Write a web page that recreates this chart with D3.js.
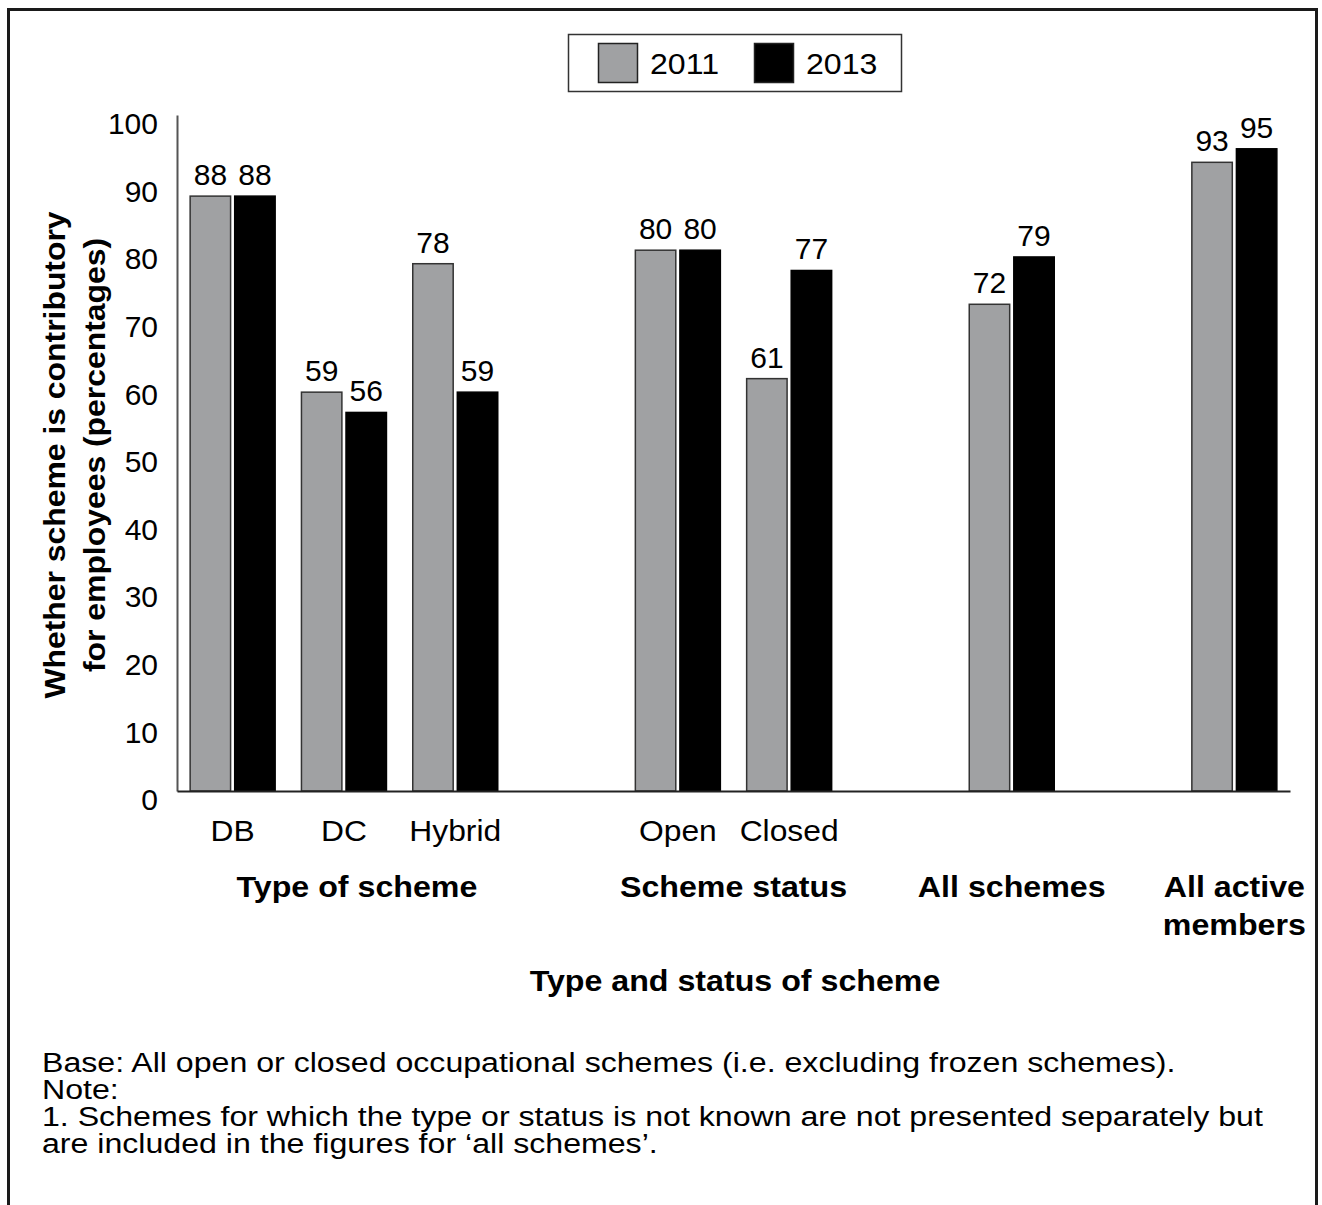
<!DOCTYPE html>
<html>
<head>
<meta charset="utf-8">
<script src="https://cdn.jsdelivr.net/npm/d3@7"></script>
<style>
  html, body { margin: 0; padding: 0; background: #fff; }
  svg { display: block; font-family: "Liberation Sans", Arial, sans-serif; }
</style>
</head>
<body>
<svg id="chart" width="1322" height="1205"></svg>
<script>
// Category slots along the x axis; empty keys act as spacers between groups
const slots = ["DB", "DC", "Hybrid", "gap1", "Open", "Closed", "gap2", "All schemes", "gap3", "All active members"];
const tickLabels = {"DB": "DB", "DC": "DC", "Hybrid": "Hybrid", "Open": "Open", "Closed": "Closed"};
const categories = ["DB", "DC", "Hybrid", "Open", "Closed", "All schemes", "All active members"];
const years = ["2011", "2013"];
const values2011 = [88, 59, 78, 80, 61, 72, 93];
const values2013 = [88, 56, 59, 80, 77, 79, 95];
const yTicks = [0, 10, 20, 30, 40, 50, 60, 70, 80, 90, 100];

// Group headings beneath the category labels
const groupNames = ["Type of scheme", "Scheme status", "All schemes", "All active members"];
const groupMembers = [["DB", "DC", "Hybrid"], ["Open", "Closed"], ["All schemes"], ["All active members"]];

const xTitle = "Type and status of scheme";
const yTitle = ["Whether scheme is contributory", "for employees (percentages)"];
const notes = [
  "Base: All open or closed occupational schemes (i.e. excluding frozen schemes).",
  "Note:",
  "1. Schemes for which the type or status is not known are not presented separately but",
  "are included in the figures for \u2018all schemes\u2019."
];

const colors = {"2011": "#a0a1a3", "2013": "#000000"};
const strokes = {"2011": "#333333", "2013": "#000000"};

const rows = categories.map((c, i) => ({cat: c, "2011": values2011[i], "2013": values2013[i]}));

const svg = d3.select("#chart");

// Outer frame (open at the bottom edge of the page)
svg.append("path")
  .attr("d", "M8.5,1210 V9.5 H1316.5 V1210")
  .attr("fill", "none")
  .attr("stroke", "#1a1a1a")
  .attr("stroke-width", 3);

const plot = {left: 177, right: 1290, top: 115, bottom: 791};

const x = d3.scaleBand().domain(slots).range([plot.left, plot.right]).paddingInner(0).paddingOuter(0);
const xs = d3.scaleBand().domain(years).range([-43, 43]).paddingInner(0.07);
const y = d3.scaleLinear().domain([0, 100]).range([plot.bottom, plot.top]);

const center = d => x(d) + x.bandwidth() / 2;

// Bars
const groups = svg.append("g").selectAll("g")
  .data(rows).join("g")
  .attr("transform", d => `translate(${center(d.cat)},0)`);

groups.selectAll("rect")
  .data(d => years.map(yr => ({yr, v: d[yr]})))
  .join("rect")
  .attr("x", d => xs(d.yr) + 0.5)
  .attr("width", xs.bandwidth() - 1)
  .attr("y", d => y(d.v))
  .attr("height", d => y(0) - y(d.v))
  .attr("fill", d => colors[d.yr])
  .attr("stroke", d => strokes[d.yr])
  .attr("stroke-width", 1.5);

// Value labels
groups.selectAll("text")
  .data(d => years.map(yr => ({yr, v: d[yr]})))
  .join("text")
  .attr("x", d => xs(d.yr) + xs.bandwidth() / 2)
  .attr("y", d => y(d.v) - 11)
  .attr("text-anchor", "middle")
  .attr("font-size", 30)
  .attr("fill", "#000")
  .text(d => d.v);

// Y axis: line plus labels, no tick marks
const yAxis = d3.axisLeft(y).tickValues(yTicks).tickSize(0).tickPadding(19);
const yg = svg.append("g").attr("transform", `translate(${plot.left},0)`).call(yAxis);
yg.attr("font-family", null);
yg.select(".domain").attr("stroke", "#555").attr("stroke-width", 2);
yg.selectAll(".tick text")
  .attr("font-size", 30)
  .attr("fill", "#000")
  .attr("dy", "0.62em");

// X baseline with category labels
const xAxis = d3.axisBottom(x).tickSize(0).tickFormat(d => tickLabels[d] || "");
const xg = svg.append("g").attr("transform", `translate(0,${plot.bottom})`).call(xAxis);
xg.attr("font-family", null);
xg.select(".domain").attr("stroke", "#222").attr("stroke-width", 2);
xg.selectAll(".tick text")
  .attr("font-size", 30)
  .attr("fill", "#000")
  .attr("y", 0)
  .attr("dy", 50)
  .attr("transform", "scale(1.06,1)");

// Text drawn with a slight horizontal stretch
function wideText(parent, px, py, sx, rot) {
  return parent.append("text")
    .attr("transform", `translate(${px},${py})` + (rot ? ` rotate(${rot})` : "") + ` scale(${sx},1)`);
}

// Group headings
groupNames.forEach((name, i) => {
  const cs = groupMembers[i].map(center);
  const cx = d3.mean(cs) + (i === 0 ? 13 : 0);
  const words = name === "All active members" ? ["All active", "members"] : [name];
  const t = wideText(svg, cx, 897, 1.11)
    .attr("text-anchor", "middle")
    .attr("font-size", 29)
    .attr("font-weight", "bold")
    .attr("fill", "#000");
  words.forEach((w, j) => t.append("tspan").attr("x", 0).attr("y", j * 38).text(w));
});

// X axis title
wideText(svg, 735, 991, 1.11)
  .attr("text-anchor", "middle")
  .attr("font-size", 29)
  .attr("font-weight", "bold")
  .text(xTitle);

// Y axis title, two rotated lines
yTitle.forEach((line, i) => {
  wideText(svg, 65 + i * 40, 455, 1.1, -90)
    .attr("text-anchor", "middle")
    .attr("font-size", 29)
    .attr("font-weight", "bold")
    .text(line);
});

// Legend
const legend = svg.append("g");
legend.append("rect")
  .attr("x", 568.5).attr("y", 34.5).attr("width", 333).attr("height", 57)
  .attr("fill", "#fff").attr("stroke", "#333").attr("stroke-width", 1.5);
const legendX = {"2011": 598, "2013": 754};
years.forEach(yr => {
  legend.append("rect")
    .attr("x", legendX[yr] + 0.5).attr("y", 43.5).attr("width", 39).attr("height", 39)
    .attr("fill", colors[yr]).attr("stroke", "#222").attr("stroke-width", 1.5);
  wideText(legend, legendX[yr] + 52, 74, 1.07)
    .attr("font-size", 30)
    .text(yr);
});

// Footnotes
const notesG = svg.append("g").attr("transform", "translate(42,0) scale(1.19,1)");
notes.forEach((line, i) => {
  notesG.append("text")
    .attr("x", 0)
    .attr("y", 1072 + i * 27)
    .attr("font-size", 27)
    .attr("fill", "#000")
    .text(line);
});
</script>
</body>
</html>
